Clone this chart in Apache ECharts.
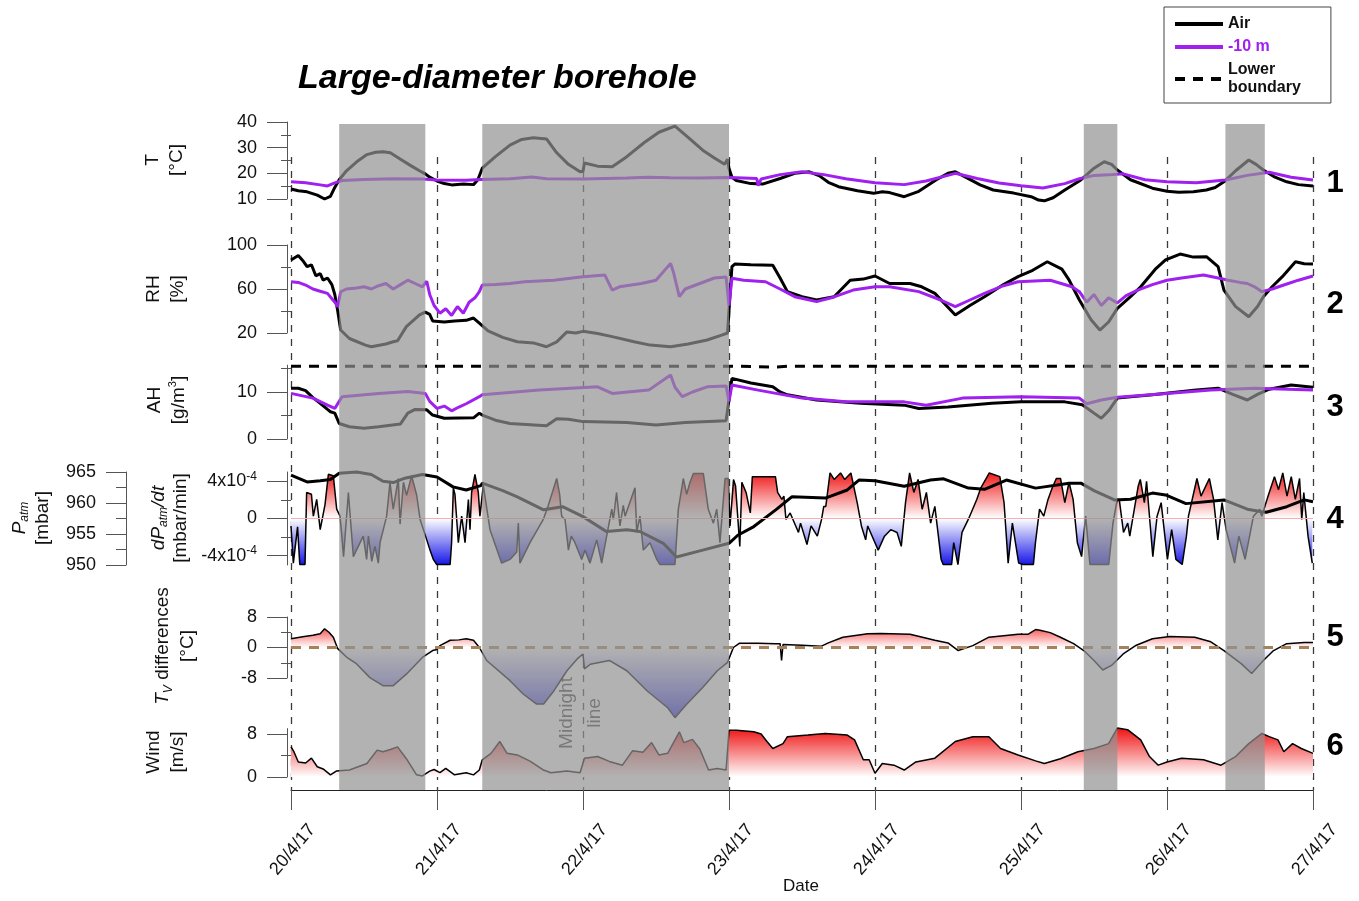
<!DOCTYPE html>
<html><head><meta charset="utf-8">
<script src="https://cdn.jsdelivr.net/npm/echarts@6/dist/echarts.min.js"></script>
<style>html,body{margin:0;padding:0;background:#fff}#c{width:1359px;height:901px}</style>
</head><body><div id="c"></div>
<script>
// ---------- data (x = days since 20/4/17 00:00) ----------
const dateLabels = ['20/4/17','21/4/17','22/4/17','23/4/17','24/4/17','25/4/17','26/4/17','27/4/17'];
const shadeStart = [0.33, 1.31, 5.43, 6.40];
const shadeEnd   = [0.92, 3.00, 5.66, 6.67];

const tTicks = [10,20,30,40], tMinor = [15,25,35];
const rhTicks = [20,60,100], rhMinor = [40,80];
const ahTicks = [0,10], ahMinor = [5,15];
const dpTicks = [-4,0,4], dpMinor = [-2,2];           // x10^-4 mbar/min
const pTicks = [950,955,960,965], pMinor = [952.5,957.5,962.5];
const tvTicks = [-8,0,8], tvMinor = [-4,4];
const windTicks = [0,8], windMinor = [4];
const panelNumbers = ['1','2','3','4','5','6'];

const tAir = [[0,13.9],[0.05,13.2],[0.11,12.8],[0.18,11.5],[0.23,10.0],[0.27,11.0],[0.3,14.5],[0.33,17.5],[0.38,21],[0.45,24.5],[0.52,27.3],[0.58,28.2],[0.63,28.4],[0.68,28],[0.75,25.5],[0.82,23],[0.88,21],[0.92,19.8],[0.95,18.5],[1.0,17],[1.05,16],[1.1,15.5],[1.18,15.8],[1.25,15.6],[1.28,17.5],[1.31,22.0],[1.4,26.5],[1.5,31],[1.58,33.2],[1.66,33.9],[1.75,33.4],[1.82,28],[1.9,23.5],[1.98,20.6],[2.0,20.8],[2.01,24.0],[2.1,22.8],[2.2,22.6],[2.3,26.5],[2.42,32],[2.52,36],[2.63,38.4],[2.72,34],[2.82,29],[2.9,26],[2.97,23.5],[2.99,25.5],[3.0,22],[3.02,18.5],[3.05,17.2],[3.15,16.0],[3.23,15.8],[3.35,18.0],[3.45,20.0],[3.55,20.6],[3.62,19],[3.68,16.5],[3.75,14.8],[3.88,13.2],[3.99,12.2],[4.05,12.8],[4.1,12.5],[4.2,10.9],[4.3,13],[4.42,17.5],[4.5,20],[4.55,20.6],[4.62,18.5],[4.72,15.5],[4.81,13.5],[4.95,12.3],[5.07,10.9],[5.12,9.6],[5.16,9.3],[5.22,10.5],[5.3,13.5],[5.41,17.4],[5.5,22],[5.57,24.5],[5.62,23.5],[5.66,21.3],[5.75,17.5],[5.9,14.2],[6.0,13],[6.08,12.6],[6.18,12.8],[6.27,13.5],[6.33,14.5],[6.39,16.7],[6.47,21],[6.56,25.2],[6.61,23.5],[6.66,21.3],[6.74,18.5],[6.82,16.7],[6.9,15.6],[7.0,15.1]];
const t10 = [[0,16.7],[0.1,16.3],[0.2,15.5],[0.25,15.1],[0.3,16.3],[0.35,17.2],[0.5,17.6],[0.7,17.9],[0.9,17.8],[1.0,17.4],[1.2,17.3],[1.3,17.6],[1.5,17.9],[1.65,18.6],[1.75,17.9],[2.0,17.8],[2.3,18.2],[2.45,18.5],[2.6,18.3],[2.8,18.2],[3.0,18.4],[3.1,18.2],[3.19,18.0],[3.2,15.2],[3.22,17.8],[3.35,19.5],[3.5,20.6],[3.65,19.5],[3.8,17.9],[4.0,16.3],[4.2,15.6],[4.35,17],[4.55,20],[4.7,18],[4.85,16.2],[5.0,15.2],[5.15,14.3],[5.3,16],[5.4,17.9],[5.5,19.2],[5.6,19.4],[5.7,19.8],[5.85,17.5],[6.0,16.7],[6.2,16.3],[6.4,17.4],[6.55,19.2],[6.7,20.4],[6.85,18.5],[7.0,17.4]];

const rhAir = [[0,86.4],[0.05,90.5],[0.08,86],[0.11,80.3],[0.14,82],[0.17,72],[0.2,74],[0.22,68],[0.25,70],[0.28,64],[0.3,55],[0.32,40],[0.34,22.7],[0.4,15],[0.51,9],[0.55,7.5],[0.65,10],[0.7,12],[0.73,13],[0.79,25.8],[0.88,36.4],[0.92,39],[0.95,37],[0.97,31],[1.05,30],[1.12,31],[1.2,31.5],[1.25,33.6],[1.29,29],[1.35,22],[1.45,16],[1.55,12],[1.66,11],[1.75,7.5],[1.82,12],[1.89,21],[1.95,20],[2.0,21.5],[2.1,19.5],[2.2,16.7],[2.35,12],[2.46,9],[2.6,7.5],[2.72,10],[2.85,13.6],[2.95,18],[2.99,20],[3.02,80.3],[3.04,82.7],[3.15,82],[3.3,81.5],[3.35,70],[3.4,57.6],[3.5,53],[3.6,50],[3.72,53],[3.83,68],[3.92,69],[4.0,71.8],[4.1,65],[4.24,65],[4.32,62],[4.41,56],[4.55,36.4],[4.65,45],[4.75,53],[4.88,64],[4.98,71.2],[5.08,77],[5.18,84.8],[5.28,78],[5.33,68],[5.4,50],[5.48,32],[5.54,22.7],[5.6,30],[5.66,42.4],[5.75,53],[5.82,62],[5.92,78],[5.99,86.4],[6.09,91.8],[6.18,89],[6.27,89.4],[6.35,80.3],[6.39,59],[6.47,44],[6.56,34.8],[6.62,44],[6.66,53],[6.72,62],[6.79,71.2],[6.88,84.8],[6.94,83],[7.0,82.7]];
const rh10 = [[0,66.6],[0.05,66],[0.1,63.6],[0.15,60],[0.2,58],[0.25,56],[0.3,48],[0.32,44],[0.34,57.5],[0.38,60],[0.45,61],[0.5,62],[0.55,60],[0.6,63],[0.65,65],[0.7,60],[0.75,64],[0.8,68],[0.85,65],[0.9,62],[0.93,67],[0.95,55],[0.98,45],[1.02,38],[1.06,42],[1.1,36],[1.14,44],[1.18,38],[1.22,48],[1.26,52],[1.29,57.6],[1.31,63.6],[1.4,64],[1.5,65],[1.6,66.6],[1.8,68],[2.0,71.2],[2.15,72.7],[2.2,59],[2.25,62],[2.4,65],[2.5,68],[2.6,83.3],[2.62,75],[2.66,53],[2.7,60],[2.8,65],[2.9,70],[2.98,71],[3.0,45],[3.02,69.7],[3.1,68],[3.25,66.6],[3.35,60],[3.45,53],[3.6,48.5],[3.7,52],[3.85,59],[4.0,62],[4.1,62],[4.3,57.6],[4.45,50],[4.55,44],[4.65,50],[4.75,56],[4.88,63],[4.98,66.6],[5.2,68],[5.35,62],[5.4,57.6],[5.45,48],[5.5,55],[5.55,45],[5.6,52],[5.66,47.3],[5.72,54],[5.8,59],[5.9,64],[6.0,68],[6.1,70],[6.25,72.7],[6.35,70],[6.42,68],[6.5,66],[6.55,65],[6.6,62],[6.65,57.6],[6.72,60],[6.8,63.6],[6.9,68],[7.0,71.8]];

const ahAir = [[0,10.8],[0.05,10.8],[0.1,10.3],[0.15,8.8],[0.2,7.6],[0.25,6.3],[0.27,5.8],[0.3,5.5],[0.33,3.3],[0.4,2.6],[0.5,2.3],[0.6,2.6],[0.75,3.2],[0.8,5.5],[0.85,6.3],[0.93,6.2],[0.97,5.1],[1.05,4.4],[1.25,4.5],[1.29,5.5],[1.31,5.1],[1.4,4],[1.5,3.3],[1.75,2.8],[1.82,4.3],[1.9,4.2],[2.0,3.7],[2.3,3.5],[2.5,3],[2.7,3.5],[2.98,3.9],[3.02,12.9],[3.15,11.9],[3.3,11.1],[3.35,10],[3.4,9.4],[3.6,8.3],[3.9,7.6],[4.2,7.2],[4.3,6.5],[4.5,6.8],[4.8,7.6],[5.0,7.9],[5.3,7.9],[5.42,7.3],[5.5,5.5],[5.55,4.4],[5.6,6],[5.66,8.7],[5.9,9.4],[6.2,10.4],[6.35,10.8],[6.45,9.5],[6.55,8.3],[6.62,9.5],[6.7,10.6],[6.85,11.5],[7.0,11]];
const ah10 = [[0,9.7],[0.15,8.7],[0.25,7.2],[0.3,6.5],[0.33,8.0],[0.35,9.0],[0.6,9.7],[0.8,10.1],[0.92,9.7],[0.95,8],[1.0,6.5],[1.05,7],[1.1,6],[1.15,6.8],[1.2,7.5],[1.29,9],[1.31,9.4],[1.7,10.4],[2.1,11.1],[2.2,9.7],[2.45,10.4],[2.6,13.6],[2.63,11],[2.68,9],[2.75,10],[2.85,11.1],[2.98,11.3],[3.0,8],[3.02,11.5],[3.2,10.4],[3.5,8.7],[3.8,7.9],[4.2,7.9],[4.35,7.2],[4.6,8.7],[5.0,9.0],[5.4,8.7],[5.45,7.5],[5.55,8.3],[5.66,8.9],[6.0,9.7],[6.3,10.4],[6.6,10.8],[7.0,10.4]];
const lowerBoundary = [[0,15.5],[1,15.5],[2,15.5],[3,15.5],[3.33,15.3],[3.4,15.5],[4,15.5],[5,15.5],[6,15.5],[7,15.5]];

// dP/dt in units of 1e-4 mbar/min
const dPdt = [[0,-0.8],[0.016,-4.8],[0.045,-0.9],[0.06,-4.95],[0.096,-4.95],[0.107,2.8],[0.14,2.6],[0.153,0.25],[0.176,2.05],[0.2,-1.2],[0.233,1.5],[0.256,4.75],[0.29,4.6],[0.313,1.0],[0.336,0.25],[0.36,-4.1],[0.393,2.8],[0.427,-4.1],[0.495,-1.9],[0.518,-4.4],[0.53,-1.9],[0.553,-4.6],[0.575,-3.0],[0.598,-4.8],[0.61,-2.6],[0.655,0.25],[0.678,3.9],[0.7,1.0],[0.735,4.3],[0.747,-0.6],[0.77,3.9],[0.792,2.5],[0.826,4.6],[0.861,2.5],[0.884,-0.1],[0.93,-2.3],[0.952,-3.4],[0.975,-4.4],[0.998,-4.95],[1.09,-4.95],[1.1,-2.6],[1.112,3.3],[1.123,2.6],[1.146,-2.6],[1.169,0.25],[1.192,-2.6],[1.215,2.05],[1.226,-1.2],[1.237,2.8],[1.26,4.75],[1.283,2.8],[1.294,0.25],[1.317,3.6],[1.363,-1.2],[1.443,-4.8],[1.5,-4.4],[1.546,-3.6],[1.557,-0.5],[1.568,-4.8],[1.637,-2.6],[1.728,-0.1],[1.762,1.4],[1.82,4.3],[1.84,2.6],[1.854,0.25],[1.877,-0.1],[1.9,-3.4],[1.92,-1.9],[1.945,-2.6],[1.991,-4.4],[2.014,-3.4],[2.048,-4.8],[2.094,-2.3],[2.128,-4.8],[2.162,-1.9],[2.197,1.0],[2.208,-0.1],[2.23,2.8],[2.253,-0.8],[2.276,1.4],[2.288,0.25],[2.356,3.3],[2.368,-1.5],[2.39,0.25],[2.413,-3.4],[2.459,-2.6],[2.505,-4.4],[2.527,-4.95],[2.63,-4.95],[2.653,1.0],[2.687,4.3],[2.71,2.6],[2.733,3.9],[2.756,4.85],[2.824,4.85],[2.858,1.0],[2.893,-0.5],[2.916,1.0],[2.938,-2.6],[2.973,4.3],[2.995,4.3],[3.007,-0.8],[3.031,4.2],[3.045,3.5],[3.074,-3.0],[3.088,3.9],[3.117,2.8],[3.146,0.6],[3.16,4.5],[3.318,4.5],[3.333,2.8],[3.362,2.05],[3.376,2.4],[3.39,-0.1],[3.419,0.6],[3.476,-1.5],[3.49,-0.5],[3.534,-2.8],[3.562,-0.8],[3.605,-1.9],[3.634,-0.1],[3.649,1.3],[3.663,1.3],[3.692,4.9],[3.72,4.2],[3.764,4.9],[3.792,4.2],[3.835,4.9],[3.878,1.7],[3.907,-0.8],[3.936,-2.3],[3.95,-0.8],[4.022,-3.4],[4.065,-1.9],[4.108,-1.2],[4.151,-1.5],[4.18,-3.0],[4.209,1.7],[4.237,4.9],[4.266,2.8],[4.295,4.2],[4.323,1.0],[4.352,2.8],[4.381,-0.5],[4.41,1.3],[4.453,-4.4],[4.467,-4.95],[4.525,-4.95],[4.539,-2.6],[4.568,-4.95],[4.596,-1.5],[4.639,-0.1],[4.697,2.05],[4.725,3.3],[4.783,4.9],[4.855,4.5],[4.884,1.7],[4.912,-4.8],[4.941,-0.5],[4.984,-4.8],[5.013,-4.95],[5.085,-4.95],[5.099,-2.6],[5.127,1.0],[5.156,0.25],[5.185,2.05],[5.214,3.3],[5.242,4.3],[5.271,4.3],[5.3,1.7],[5.329,3.9],[5.357,2.05],[5.386,-2.6],[5.415,-4.1],[5.443,0.25],[5.472,-4.95],[5.601,-4.95],[5.63,-0.5],[5.659,2.05],[5.673,2.05],[5.702,-1.5],[5.731,-0.5],[5.745,-1.9],[5.803,3.5],[5.817,4.2],[5.845,1.7],[5.86,4.0],[5.903,-4.1],[5.932,0.25],[5.96,1.7],[6.003,-4.4],[6.032,-1.2],[6.061,-4.4],[6.104,-4.95],[6.133,-1.9],[6.147,0.25],[6.205,4.3],[6.233,2.4],[6.29,4.3],[6.319,2.05],[6.348,-2.3],[6.377,1.7],[6.405,-1.2],[6.463,-4.8],[6.492,-1.9],[6.535,-4.4],[6.592,0.25],[6.635,1.0],[6.649,0.25],[6.692,2.4],[6.736,4.5],[6.764,3.1],[6.793,4.9],[6.822,2.4],[6.851,4.5],[6.879,2.05],[6.908,4.3],[6.923,-0.1],[6.937,2.8],[6.966,-1.9],[6.995,-4.8]];
const pAtm = [[0,964.5],[0.11,963.4],[0.2,963.6],[0.27,963.8],[0.33,964.8],[0.45,965.0],[0.55,964.6],[0.63,963.5],[0.7,963.3],[0.78,964],[0.9,964.6],[1.0,964.2],[1.11,962.6],[1.2,962.1],[1.3,962.8],[1.31,963.2],[1.45,962],[1.55,961],[1.73,958.9],[1.86,959.4],[2.0,957.8],[2.16,955.4],[2.3,955.7],[2.39,955.4],[2.55,953.5],[2.64,951.3],[2.82,952.4],[3.0,953.5],[3.06,954.8],[3.17,956.2],[3.32,958.9],[3.43,961],[3.66,960.8],[3.81,962.1],[3.89,963.7],[4.0,963.6],[4.2,962.7],[4.38,963.7],[4.47,963.9],[4.64,962.4],[4.75,962.2],[4.9,963.7],[5.1,962.4],[5.33,963.2],[5.41,963.2],[5.5,962],[5.64,960.5],[5.75,960.6],[5.9,961.6],[5.99,961.3],[6.13,959.9],[6.39,960.5],[6.55,959],[6.65,958.6],[6.68,958.5],[6.82,959.4],[6.94,960.5],[7.0,960.2]];
const tvDiff = [[0,2.3],[0.08,2.8],[0.15,3.2],[0.2,3.6],[0.23,4.9],[0.26,4.0],[0.29,2.7],[0.32,-0.3],[0.38,-2.5],[0.45,-4.3],[0.54,-7.9],[0.63,-10],[0.7,-10],[0.79,-7],[0.9,-2.6],[0.97,-0.8],[1.0,-0.5],[1.02,0.5],[1.09,1.9],[1.15,2.0],[1.2,2.3],[1.25,1.9],[1.29,0],[1.34,-3.4],[1.5,-8.7],[1.59,-12.2],[1.68,-14.8],[1.73,-14.8],[1.8,-11.4],[1.89,-6.1],[1.96,-3],[2.0,-1.7],[2.01,-5.6],[2.05,-4.4],[2.18,-3.4],[2.3,-6.1],[2.44,-11.4],[2.58,-15.8],[2.63,-18.4],[2.71,-14.9],[2.82,-10.5],[2.92,-6.1],[2.99,-3.9],[3.03,0],[3.07,1.1],[3.2,1.1],[3.32,1.0],[3.35,1.0],[3.36,-3.4],[3.37,0.8],[3.5,0.6],[3.63,0.3],[3.68,1.2],[3.78,2.7],[3.95,3.6],[4.04,3.7],[4.24,3.5],[4.41,1.9],[4.5,1.2],[4.57,-0.8],[4.67,0.5],[4.78,2.7],[4.98,3.5],[5.05,3.5],[5.1,4.7],[5.13,4.5],[5.2,3.9],[5.27,2.7],[5.36,1.0],[5.43,-0.8],[5.5,-3.4],[5.56,-5.9],[5.62,-4.7],[5.7,-1.7],[5.79,0.6],[5.9,2.3],[6.02,2.9],[6.19,2.7],[6.3,1.5],[6.39,-0.8],[6.51,-4.3],[6.58,-6.8],[6.66,-3.4],[6.73,-0.8],[6.82,1.0],[6.94,1.3],[7.0,1.3]];
const wind = [[0,5.6],[0.02,4.7],[0.05,2.8],[0.1,2.6],[0.14,3.5],[0.18,1.9],[0.22,1.5],[0.27,0.4],[0.31,1.1],[0.4,1.3],[0.52,2.5],[0.59,5],[0.63,4.7],[0.68,5.1],[0.73,5.6],[0.79,3.4],[0.86,0.4],[0.9,0.2],[0.95,1.1],[0.98,1.4],[1.02,0.8],[1.06,1.6],[1.12,0.4],[1.2,0.8],[1.25,0.4],[1.29,1.3],[1.31,3.2],[1.37,4.4],[1.43,6.6],[1.48,4.4],[1.55,4.1],[1.64,2.9],[1.73,1.3],[1.78,0.8],[1.89,1.1],[1.98,0.8],[2.01,3.5],[2.1,3.8],[2.18,2.9],[2.27,2.2],[2.34,4.9],[2.41,4.6],[2.47,6.4],[2.52,4.1],[2.58,4.4],[2.66,8.4],[2.69,6.4],[2.75,7],[2.8,5.2],[2.86,1.3],[2.92,1.6],[2.98,1.3],[3.0,8.7],[3.05,8.7],[3.17,8.4],[3.22,8.0],[3.26,6.6],[3.3,5.3],[3.37,6.2],[3.4,7.5],[3.54,7.8],[3.66,8.1],[3.81,7.8],[3.86,6.9],[3.92,3.2],[3.96,3.2],[4.0,0.7],[4.05,2.5],[4.13,2.2],[4.2,1.3],[4.28,2.8],[4.41,3.5],[4.55,6.6],[4.67,7.5],[4.78,7.5],[4.86,5.3],[4.98,4.1],[5.1,3.0],[5.16,2.5],[5.27,3.4],[5.39,4.7],[5.5,5.3],[5.6,6.2],[5.66,9.1],[5.73,8.8],[5.82,6.9],[5.88,3.8],[5.94,2.2],[6.0,2.8],[6.1,3.5],[6.25,3.2],[6.37,2.2],[6.47,3.8],[6.56,6.2],[6.65,8.1],[6.7,7.5],[6.76,6.9],[6.8,4.7],[6.86,6.2],[6.92,5.3],[7.0,4.4]];

// ---------- styling ----------
const FONT = "'Liberation Sans', Arial, Helvetica, sans-serif";
const PURPLE = '#a020f0';
const AXC = '#555';
const L = 291, R = 46;
const grids = [
  {left:L, right:R, top:122, height:77},     // 0 T
  {left:L, right:R, top:245, height:88},     // 1 RH
  {left:L, right:R, top:365.2, height:73.8}, // 2 AH
  {left:L, right:R, top:472, height:93},     // 3 dP
  {left:L, right:R, top:617, height:61},     // 4 Tv
  {left:L, right:R, top:728.6, height:48.4}, // 5 wind
  {left:L, right:R, top:124, height:666},    // 6 overlay
  {left:L, right:R, top:157, height:633}     // 7 midnight lines
];
function hiddenX(gi){ return {type:'value', gridIndex:gi, min:0, max:7, show:false}; }
const xAxes = [0,1,2,3,4].map(hiddenX);
xAxes.push({type:'value', gridIndex:5, min:0, max:7, interval:1, position:'bottom', offset:13,
  axisLine:{show:true, onZero:false, lineStyle:{color:'#222', width:1}},
  axisTick:{show:true, length:20, lineStyle:{color:'#555'}},
  axisLabel:{show:true, rotate:50, margin:19, fontSize:18, color:'#111', fontFamily:FONT,
    align:'right', verticalAlign:'top', lineHeight:55,
    formatter: v => dateLabels[Math.round(v)]},
  splitLine:{show:false}});
xAxes.push(hiddenX(6));
xAxes.push({type:'value', gridIndex:7, min:0, max:7, interval:1, show:true,
  axisLine:{show:false}, axisTick:{show:false}, axisLabel:{show:false},
  splitLine:{show:true, lineStyle:{color:'#3a3a3a', width:1.3, type:[7,7]}}});

function yPair(gi, min, max, majors, minors, offset, fmt, rich){
  const major = {type:'value', gridIndex:gi, min, max, position:'left', offset,
    axisLine:{show:true, onZero:false, lineStyle:{color:AXC, width:1}},
    axisTick:{show:true, customValues:majors, length:20, lineStyle:{color:AXC}},
    axisLabel:{show:true, customValues:majors, margin:30, fontSize:18, color:'#111', fontFamily:FONT,
      formatter:fmt, rich:rich},
    splitLine:{show:false}};
  const minor = {type:'value', gridIndex:gi, min, max, position:'left', offset,
    axisLine:{show:false}, axisTick:{show:true, customValues:minors, length:10, lineStyle:{color:AXC}},
    axisLabel:{show:false}, splitLine:{show:false}};
  return [major, minor];
}
const dpRich = {b:{fontSize:18, fontFamily:FONT, color:'#111', lineHeight:22},
                s:{fontSize:12, fontFamily:FONT, color:'#111', lineHeight:12, verticalAlign:'top'}};
const yAxes = [].concat(
  yPair(0,10,40,tTicks,tMinor,4),
  yPair(1,20,100,rhTicks,rhMinor,4),
  yPair(2,0,15.7,ahTicks,ahMinor,4),
  yPair(3,-5,5,dpTicks,dpMinor,4, v => v === 0 ? '{b|0}' : '{b|' + v + 'x10}{s|-4}', dpRich),
  yPair(3,950,965,pTicks,pMinor,165),
  yPair(4,-8,8,tvTicks,tvMinor,4),
  yPair(5,0,9,windTicks,windMinor,4),
  [{type:'value', gridIndex:6, min:0, max:1, show:false},
   {type:'value', gridIndex:7, min:0, max:1, show:false}]
);

function line(name, xi, yi, data, color, width, extra){
  return Object.assign({type:'line', name, xAxisIndex:xi, yAxisIndex:yi, data,
    symbol:'none', showSymbol:false, silent:true, z:3, clip:false,
    itemStyle:{color}, lineStyle:{color, width}}, extra || {});
}
const series = [
  line('Air', 0, 0, tAir, '#000', 3),
  line('-10 m', 0, 0, t10, PURPLE, 3),
  line('Air', 1, 2, rhAir, '#000', 3),
  line('-10 m', 1, 2, rh10, PURPLE, 3),
  line('Air', 2, 4, ahAir, '#000', 3),
  line('-10 m', 2, 4, ah10, PURPLE, 3),
  line('Lower boundary', 2, 4, lowerBoundary, '#000', 3, {lineStyle:{color:'#000', width:3, type:[10,8]}}),
  line('dP/dt', 3, 6, dPdt, '#000', 1.5, {areaStyle:{opacity:1}, z:2, itemStyle:{},
     markLine:{silent:true, symbol:'none', label:{show:false}, lineStyle:{color:'#f3b0b0', width:1, type:'solid'}, data:[{yAxis:0}]}}),
  line('Patm', 3, 8, pAtm, '#000', 3),
  line('Tv', 4, 10, tvDiff, '#000', 1.5, {areaStyle:{opacity:1}, z:2, itemStyle:{},
     markLine:{silent:true, symbol:'none', label:{show:false}, z:4, lineStyle:{color:'#a5825c', width:3, type:[10,8]}, data:[{yAxis:0}]}}),
  line('Wind', 5, 12, wind, '#000', 1.5, {areaStyle:{opacity:1}, z:2, itemStyle:{}}),
  {type:'custom', xAxisIndex:6, yAxisIndex:14, silent:true, z:20,
   data: shadeStart.map((s,i) => [s, shadeEnd[i]]), encode:{x:[0,1]},
   renderItem:(params, api) => {
     const p0 = api.coord([api.value(0), 1]);
     const p1 = api.coord([api.value(1), 0]);
     return {type:'rect', shape:{x:p0[0], y:p0[1], width:p1[0]-p0[0], height:p1[1]-p0[1]},
             style:{fill:'rgba(146,146,146,0.7)'}};
   }}
];

const visualMap = [
  {type:'continuous', show:false, seriesIndex:7, dimension:1, min:-5, max:5,
   inRange:{color:['#1515e8','#ffffff','#f01515']}},
  {type:'continuous', show:false, seriesIndex:9, dimension:1, min:-19.2, max:6.4,
   inRange:{color:['#2020e0','#6a6aea','#b5b5f5','#ffffff','#f52a2a']}},
  {type:'continuous', show:false, seriesIndex:10, dimension:1, min:0, max:9.2,
   inRange:{color:['#ffffff','#f01010']}}
];

const tRich = {
  n:{fontSize:19, fontFamily:FONT, color:'#111'},
  i:{fontSize:19, fontFamily:FONT, color:'#111', fontStyle:'italic'},
  isub:{fontSize:12, fontFamily:FONT, color:'#111', fontStyle:'italic', verticalAlign:'bottom', lineHeight:14},
  sup:{fontSize:11, fontFamily:FONT, color:'#111', verticalAlign:'top', lineHeight:12}
};
const axisTitles = [
  {x:165, y:160, lh:24, text:'{n|T}\n{n|[°C]}'},
  {x:166, y:289, lh:24, text:'{n|RH}\n{n|[%]}'},
  {x:167, y:400, lh:24, text:'{n|AH}\n{n|[g/m}{sup|3}{n|]}'},
  {x:170, y:518, lh:22, text:'{i|dP}{isub|atm}{i|/dt}\n{n|[mbar/min]}'},
  {x:175, y:646, lh:25, text:'{i|T}{isub|V}{n| differences}\n{n|[°C]}'},
  {x:166, y:752, lh:24, text:'{n|Wind}\n{n|[m/s]}'},
  {x:31, y:518, lh:23, text:'{i|P}{isub|atm}\n{n|[mbar]}'}
];
const panelY = [183, 304, 407, 519, 637, 746];
const graphic = [];
axisTitles.forEach(t => graphic.push({type:'text', x:t.x, y:t.y, rotation:Math.PI/2, silent:true,
  style:{text:t.text, rich:JSON.parse(JSON.stringify(tRich)), align:'center', verticalAlign:'middle',
         lineHeight:t.lh, fontSize:19, fontFamily:FONT, fill:'#111'}}));
panelNumbers.forEach((n,i) => graphic.push({type:'text', x:1335, y:panelY[i], silent:true,
  style:{text:n, fontSize:31, fontWeight:'bold', fontFamily:FONT, fill:'#000', align:'center', verticalAlign:'middle'}}));
graphic.push({type:'text', x:801, y:886, silent:true,
  style:{text:'Date', fontSize:17, fontFamily:FONT, fill:'#111', align:'center', verticalAlign:'middle'}});
graphic.push({type:'text', x:581, y:713, rotation:Math.PI/2, silent:true, z:0,
  style:{text:'Midnight\nline', fontSize:19, lineHeight:28, fontFamily:FONT, fill:'#404040', align:'center', verticalAlign:'middle'}});

const chart = echarts.init(document.getElementById('c'), null, {renderer:'canvas'});
chart.setOption({
  animation:false,
  backgroundColor:'#ffffff',
  title:{text:'Large-diameter borehole', left:293, top:57,
    textStyle:{fontSize:34, fontWeight:'bold', fontStyle:'italic', fontFamily:FONT, color:'#000'}},
  legend:{show:true, orient:'vertical', left:1164, top:7, padding:[8,30,6,9], itemGap:5,
    itemWidth:48, itemHeight:14, selectedMode:false, borderColor:'#444', borderWidth:1,
    itemStyle:{opacity:0}, lineStyle:{width:4},
    data:[{name:'Air'},{name:'-10 m', textStyle:{color:PURPLE}},{name:'Lower boundary'}],
    formatter: n => n === 'Lower boundary' ? 'Lower\nboundary' : n,
    textStyle:{fontSize:16, fontWeight:'bold', fontFamily:FONT, color:'#111', lineHeight:18}},
  grid:grids, xAxis:xAxes, yAxis:yAxes, visualMap, series, graphic
});
</script></body></html>
